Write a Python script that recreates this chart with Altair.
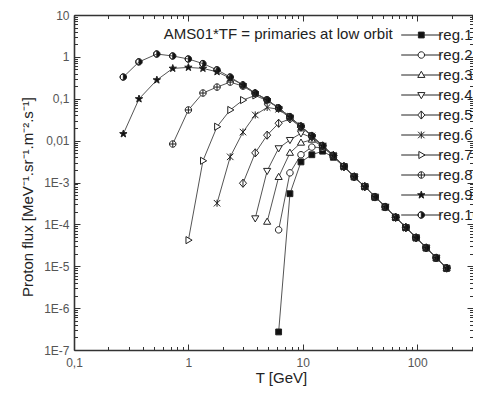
import altair as alt
import pandas as pd

# ---------------- data ----------------
energy = [0.27, 0.37, 0.53, 0.73, 1.0, 1.34, 1.78, 2.32, 3.0, 3.84, 4.88, 6.15, 7.72, 9.64,
          12.0, 14.9, 18.5, 22.9, 28.2, 34.8, 42.8, 52.7, 64.8, 79.6, 97.8, 120.0, 147.0, 181.0]

# reg.10 covers the full energy range (primaries at low orbit)
reg10 = [0.33, 0.76, 1.17, 1.05, 0.89, 0.69, 0.49, 0.33, 0.213, 0.137, 0.094, 0.060, 0.037,
         0.022, 0.0129, 0.0075, 0.0044, 0.0024, 0.00137, 0.00080, 0.00045, 0.00026, 0.000147,
         8.4e-5, 4.8e-5, 2.75e-5, 1.58e-5, 9.0e-6]

# other regions: index of first energy point and fluxes until they join the reg.10 curve
reg9_start, reg9_head = 0, [0.0145, 0.099, 0.28, 0.53, 0.56, 0.53, 0.44, 0.31]
reg8_start, reg8_head = 3, [0.0083, 0.054, 0.137, 0.19, 0.25, 0.20, 0.133]
reg7_start, reg7_head = 4, [4.2e-5, 3.3e-3, 0.0215, 0.054, 0.093, 0.12, 0.09]
reg6_start, reg6_head = 6, [3.2e-4, 4.1e-3, 0.016, 0.041, 0.062, 0.056, 0.035]
reg5_start, reg5_head = 8, [9.6e-4, 5.1e-3, 0.0135, 0.026, 0.033, 0.021]
reg4_start, reg4_head = 9, [1.4e-4, 1.9e-3, 6.6e-3, 0.0104, 0.015, 0.0118]
reg3_start, reg3_head = 10, [1.15e-4, 1.35e-3, 5.1e-3, 8.9e-3, 0.0105, 0.0072]
reg2_start, reg2_head = 11, [7.4e-5, 1.7e-3, 4.6e-3, 7.0e-3, 0.0068]
reg1_start, reg1_head = 11, [2.7e-7, 5.4e-4, 3.1e-3, 4.6e-3, 5.6e-3, 4.0e-3]

regions = ["reg.1", "reg.2", "reg.3", "reg.4", "reg.5",
           "reg.6", "reg.7", "reg.8", "reg.9", "reg.10"]
starts = [reg1_start, reg2_start, reg3_start, reg4_start, reg5_start,
          reg6_start, reg7_start, reg8_start, reg9_start, 0]
heads = [reg1_head, reg2_head, reg3_head, reg4_head, reg5_head,
         reg6_head, reg7_head, reg8_head, reg9_head, reg10]

annotation_text = "AMS01*TF = primaries at low orbit"
annotation_T = [61.0]
annotation_flux = [3.5]

x_title = "T [GeV]"
y_title = "Proton flux [MeV\u207b\u00b9.sr\u207b\u00b9.m\u207b\u00b2.s\u207b\u00b9]"

rows = []
for rid, (name, st, head) in enumerate(zip(regions, starts, heads)):
    vals = list(head) + reg10[st + len(head):]
    for e, v in zip(energy[st:], vals):
        rows.append({"reg": name, "rid": rid, "T": e, "flux": v})
df = pd.DataFrame(rows)
ann = pd.DataFrame({"T": annotation_T, "flux": annotation_flux, "text": [annotation_text]})

# ---------------- symbols ----------------
CIRCLE = "M1,0A1,1 0 1,1 -1,0A1,1 0 1,1 1,0Z"
SQUARE = "M-0.9,-0.9L0.9,-0.9L0.9,0.9L-0.9,0.9Z"
TRI_UP = "M0,-1.15L1.1,0.75L-1.1,0.75Z"
TRI_DOWN = "M0,1.15L1.1,-0.75L-1.1,-0.75Z"
TRI_RIGHT = "M1.15,0L-0.75,1.1L-0.75,-1.1Z"
DIAMOND = "M0,-1.25L1.1,0L0,1.25L-1.1,0Z M0,-1.25L0,1.25"
XBAR = "M-1,-1L1,1M-1,1L1,-1M0,-1.1L0,1.1"
CIRCLE_PLUS = CIRCLE + " M-1,0L1,0M0,-1L0,1"
STAR = ("M0,-1.2L0.28,-0.39L1.14,-0.37L0.46,0.15L0.7,0.97L0,0.48L-0.7,0.97"
        "L-0.46,0.15L-1.14,-0.37L-0.28,-0.39Z")
HALF = "M0,-1A1,1 0 0,1 0,1Z M0,-1A1,1 0 0,0 0,1A1,1 0 0,1 0,-1"

shapes = [SQUARE, CIRCLE, TRI_UP, TRI_DOWN, DIAMOND, XBAR, TRI_RIGHT, CIRCLE_PLUS, STAR, HALF]
inner = [0.9, 1.0, 0.66, 0.66, 1.1, 0.0, 0.75, 1.0, 0.5, 1.0]
fills = ["#111", "white", "white", "white", "white", "white", "white", "white", "#111", "#111"]
strokes = ["#222"] * 10
STUB = 6.2
legend_shapes = [s + f" M{-STUB},0L{-e},0 M{e},0L{STUB},0" for s, e in zip(shapes, inner)]

# ---------------- geometry / axes ----------------
W, H = 399, 335
FONT = "Liberation Sans"
x_scale = alt.Scale(type="log", domain=[0.1, 307.5], nice=False)
y_scale = alt.Scale(type="log", domain=[1e-7, 10], nice=False)

x_ticks = [float(f"{m}e{k}") for k in range(-1, 3) for m in range(1, 10) if float(f"{m}e{k}") <= 307]
y_ticks = [float(f"{m}e{k}") for k in range(-7, 1) for m in range(1, 10)] + [10.0]

MAJOR = "abs(log(datum.value)/LN10 - round(log(datum.value)/LN10)) < 0.001"
tick_size = {"condition": {"test": MAJOR, "value": 6}, "value": 3.5}
FRAME = "#333"

x_axis_main = alt.Axis(
    orient="top", offset=-H, values=x_ticks, domain=True, domainColor=FRAME, domainWidth=1.6,
    grid=False, tickSize=tick_size, tickColor=FRAME, tickWidth=1,
    labelExpr=f"({MAJOR}) ? replace(format(datum.value, '~g'), '.', ',') : ''",
    labelBaseline="top", labelPadding=-13, labelFont=FONT, labelFontSize=12,
    labelColor="#555", labelOverlap=False, labelFlush=False,
    title=x_title, titleX=207, titleY=27, titleAlign="center", titleBaseline="middle",
    titleFont=FONT, titleFontSize=15, titleFontWeight="normal", titleColor="#222")
y_axis_main = alt.Axis(
    orient="right", offset=-W, values=y_ticks, domain=True, domainColor=FRAME, domainWidth=1.6,
    grid=False, tickSize=tick_size, tickColor=FRAME, tickWidth=1,
    labelExpr=(f"({MAJOR}) ? (datum.value >= 1 ? format(datum.value, 'd') : "
               "(datum.value > 0.05 ? '0,1' : (datum.value > 0.005 ? '0,01' : "
               "'1E' + round(log(datum.value)/LN10)))) : ''"),
    labelAlign="right", labelBaseline="middle", labelPadding=-11, labelFont=FONT,
    labelFontSize=12, labelColor="#555", labelOverlap=False, labelFlush=False,
    title=y_title, titleAngle=270, titleX=-47, titleY=H / 2 + 14, titleAlign="center",
    titleBaseline="middle", titleFont=FONT, titleFontSize=15, titleFontWeight="normal",
    titleColor="#222")
x_axis_mirror = alt.Axis(orient="bottom", offset=-H, values=x_ticks, domain=True,
                         domainColor=FRAME, domainWidth=1.6, grid=False,
                         tickSize=tick_size, tickColor=FRAME, labels=False, title=None)
y_axis_mirror = alt.Axis(orient="left", offset=-W, values=y_ticks, domain=False, grid=False,
                         tickSize=tick_size, tickColor=FRAME, labels=False, title=None)

legend = alt.Legend(
    title=None, orient="none", legendX=339.8, legendY=12.5, padding=0,
    symbolSize=42, symbolStrokeWidth=1,
    labelFont=FONT, labelFontSize=15, labelColor="#222", labelOffset=9.5,
    rowPadding=4, labelLimit=0)

lines = alt.Chart(df).mark_line(color="#555", strokeWidth=1).encode(
    x=alt.X("T:Q", scale=x_scale, axis=x_axis_main),
    y=alt.Y("flux:Q", scale=y_scale, axis=y_axis_main),
    detail="reg:N",
    order="T:Q",
)

points = alt.Chart(df).mark_point(filled=True, size=42, stroke="#222", strokeWidth=1,
                                  opacity=1, fillOpacity=1).encode(
    x=alt.X("T:Q", scale=x_scale, axis=x_axis_mirror),
    y=alt.Y("flux:Q", scale=y_scale, axis=y_axis_mirror),
    shape=alt.Shape("reg:N", scale=alt.Scale(domain=regions, range=shapes), legend=None),
    fill=alt.Fill("reg:N", scale=alt.Scale(domain=regions, range=fills), legend=None),
    order=alt.Order("rid:Q"),
)

legend_layer = alt.Chart(df).transform_filter("datum.T < 0").mark_point(
    filled=True, size=42, strokeWidth=1, opacity=1, fillOpacity=1).encode(
    x=alt.X("T:Q", scale=x_scale, axis=None),
    y=alt.Y("flux:Q", scale=y_scale, axis=None),
    shape=alt.Shape("reg:N", scale=alt.Scale(domain=regions, range=legend_shapes), legend=legend),
    fill=alt.Fill("reg:N", scale=alt.Scale(domain=regions, range=fills), legend=legend),
    stroke=alt.Stroke("reg:N", scale=alt.Scale(domain=regions, range=strokes), legend=legend),
)

label = alt.Chart(ann).mark_text(align="right", baseline="middle", font=FONT, fontSize=15,
                                 color="#222").encode(
    x=alt.X("T:Q", scale=x_scale, axis=None),
    y=alt.Y("flux:Q", scale=y_scale, axis=None),
    text="text:N",
)

chart = alt.layer(lines, points, legend_layer, label).resolve_axis(
    x="independent", y="independent"
).resolve_scale(
    shape="independent", fill="independent", stroke="independent"
).properties(
    width=W, height=H,
    autosize=alt.AutoSizeParams(type="none"),
    padding={"left": 66, "top": 7, "right": 0, "bottom": 37},
).configure_view(strokeWidth=0).configure(background="white")

chart.save("out.html", embed_options={"renderer": "svg", "actions": False})
